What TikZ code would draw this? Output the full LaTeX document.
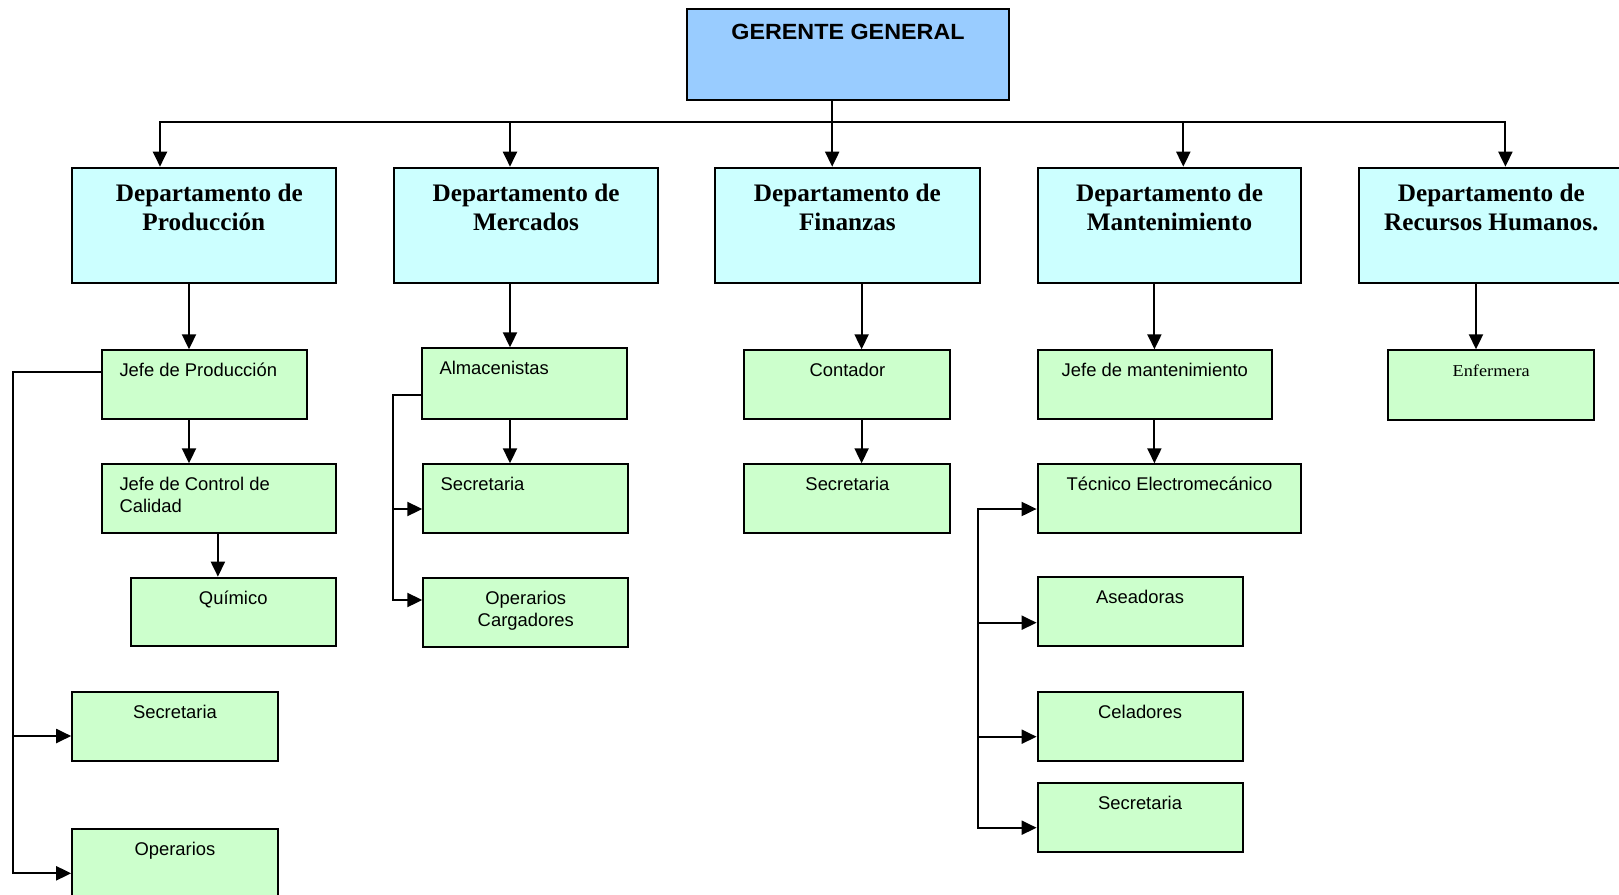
\documentclass[tikz,border=0pt]{standalone}
\usepackage{fontspec}
\setmainfont{Liberation Serif}
\setsansfont{Liberation Sans}
\newfontfamily\arialx{Liberation Sans}
\newfontfamily\arialbx[FakeStretch=1.06]{Liberation Sans}
\newfontfamily\timesx[FakeStretch=1.1]{Liberation Serif}
\usetikzlibrary{arrows.meta}
\definecolor{gblue}{HTML}{99CCFF}
\definecolor{dcyan}{HTML}{CCFFFF}
\definecolor{lgreen}{HTML}{CCFFCC}
\newcommand\twoc[2]{\begin{tabular}[t]{@{}c@{}}#1\\#2\end{tabular}}
\newcommand\twol[2]{\begin{tabular}[t]{@{}l@{}}#1\\#2\end{tabular}}
\tikzset{
  boxbase/.style={draw=black, line width=2pt, inner sep=0pt, anchor=north west},
  topbox/.style={boxbase, fill=gblue},
  deptbox/.style={boxbase, fill=dcyan, minimum height=115pt},
  gbox/.style={boxbase, fill=lgreen},
  conn/.style={line width=2pt, line cap=rect},
  arr/.style={conn, -{Triangle[length=15pt,width=14pt]}},
  toptext/.style={font=\arialbx\bfseries\fontsize{22}{25}\selectfont, inner sep=0pt, anchor=base},
  depttext/.style={font=\bfseries\fontsize{25.2}{28.3}\selectfont, inner sep=0pt, anchor=base},
  gtext/.style={font=\arialx\fontsize{18.4}{22.3}\selectfont, inner sep=0pt, anchor=base},
  gltext/.style={gtext, anchor=base west},
  ttext/.style={font=\timesx\fontsize{16.6}{20}\selectfont, inner sep=0pt, anchor=base},
}
\begin{document}
\begin{tikzpicture}[x=1pt,y=-1pt]
\useasboundingbox (0,0) rectangle (1619,894);
% top
\node[topbox, minimum width=322pt, minimum height=91pt] (gg) at (685.6,8) {};
\node[toptext] (ggt) at (848,39.8) {GERENTE GENERAL};
% departments
\node[deptbox, minimum width=263.3pt] (prod) at (71.2,166.7) {};
\node[deptbox, minimum width=263.3pt] (merc) at (393.4,166.7) {};
\node[deptbox, minimum width=264.8pt] (fin) at (714,166.7) {};
\node[deptbox, minimum width=263.8pt] (mant) at (1036.6,166.7) {};
\node[deptbox, minimum width=264pt] (rrhh) at (1358.3,166.7) {};
\node[depttext] (prodt) at (prod.north |- 0,201.7) {\twoc{\hspace*{11pt}Departamento de}{Producción}};
\node[depttext] (merct) at (merc.north |- 0,201.7) {\twoc{Departamento de}{Mercados}};
\node[depttext] (fint) at (fin.north |- 0,201.7) {\twoc{Departamento de}{Finanzas}};
\node[depttext] (mantt) at (mant.north |- 0,201.7) {\twoc{Departamento de}{Mantenimiento}};
\node[depttext] (rrhht) at (rrhh.north |- 0,201.7) {\twoc{Departamento de}{Recursos Humanos.}};
% level 2
\node[gbox, minimum width=204.4pt, minimum height=68.7pt] (jp) at (101.2,349.3) {};
\node[gbox, minimum width=204.4pt, minimum height=70.7pt] (alm) at (421.3,347.3) {};
\node[gbox, minimum width=206pt, minimum height=68.7pt] (cont) at (743.4,349.3) {};
\node[gbox, minimum width=234.4pt, minimum height=68.7pt] (jm) at (1036.6,349.3) {};
\node[gbox, minimum width=206pt, minimum height=69.7pt] (enf) at (1387.2,349.3) {};
\node[gltext] (jpt) at (119.3,376.5) {Jefe de Producción};
\node[gltext] (almt) at (439.3,374.5) {Almacenistas};
\node[gtext] (contt) at (cont.north |- 0,376.5) {Contador};
\node[gtext] (jmt) at (jm.north |- 0,376.5) {Jefe de mantenimiento};
\node[ttext] (enft) at (enf.north |- 0,376) {Enfermera};
% level 3
\node[gbox, minimum width=233.3pt, minimum height=68.4pt] (jcc) at (101.2,463.3) {};
\node[gbox, minimum width=205pt, minimum height=68.4pt] (sm) at (422.3,463.3) {};
\node[gbox, minimum width=206pt, minimum height=68.4pt] (sf) at (743.4,463.3) {};
\node[gbox, minimum width=263.8pt, minimum height=68.4pt] (tec) at (1036.6,463.3) {};
\node[gltext] (jcct) at (119.3,490.5) {\twol{Jefe de Control de}{Calidad}};
\node[gltext] (smt) at (440.4,490.5) {Secretaria};
\node[gtext] (sft) at (sf.north |- 0,490.5) {Secretaria};
\node[gtext] (tect) at (tec.north |- 0,490.5) {Técnico Electromecánico};
% level 4
\node[gbox, minimum width=204.5pt, minimum height=68.3pt] (qui) at (130,576.7) {};
\node[gbox, minimum width=205pt, minimum height=69.3pt] (opc) at (422.3,576.7) {};
\node[gbox, minimum width=205pt, minimum height=68.7pt] (ase) at (1036.6,576) {};
\node[gbox, minimum width=205pt, minimum height=69pt] (cel) at (1036.6,690.7) {};
\node[gbox, minimum width=205pt, minimum height=68.7pt] (sman) at (1036.6,782) {};
\node[gbox, minimum width=205.5pt, minimum height=69pt] (sp) at (71.2,690.7) {};
\node[gbox, minimum width=205.5pt, minimum height=80pt] (op) at (71.2,827.7) {};
\node[gtext] (quit) at (qui.north |- 0,604.3) {Químico};
\node[gtext] (opct) at (opc.north |- 0,604.3) {\twoc{Operarios}{Cargadores}};
\node[gtext] (aset) at (ase.north |- 0,603.8) {Aseadoras};
\node[gtext] (celt) at (cel.north |- 0,718.3) {Celadores};
\node[gtext] (smant) at (sman.north |- 0,809.8) {Secretaria};
\node[gtext] (spt) at (sp.north |- 0,718.3) {Secretaria};
\node[gtext] (opt) at (op.north |- 0,855.5) {Operarios};
% connectors: top
\coordinate (bus) at (832.2,121.7);
\coordinate (busl) at (160,121.7);
\coordinate (busr) at (1505.4,121.7);
\draw[conn] (bus |- gg.south) -- (bus);
\draw[conn] (busl) -- (busr);
\draw[arr] (busl) -- (busl |- prod.north);
\draw[arr] (510,0 |- bus) -- (510,0 |- merc.north);
\draw[arr] (bus) -- (bus |- fin.north);
\draw[arr] (1183.3,0 |- bus) -- (1183.3,0 |- mant.north);
\draw[arr] (busr) -- (busr |- rrhh.north);
% department chains
\draw[arr] (189,0 |- prod.south) -- (189,0 |- jp.north);
\draw[arr] (189,0 |- jp.south) -- (189,0 |- jcc.north);
\draw[arr] (217.9,0 |- jcc.south) -- (217.9,0 |- qui.north);
\draw[arr] (510,0 |- merc.south) -- (510,0 |- alm.north);
\draw[arr] (510,0 |- alm.south) -- (510,0 |- sm.north);
\draw[arr] (861.6,0 |- fin.south) -- (861.6,0 |- cont.north);
\draw[arr] (861.6,0 |- cont.south) -- (861.6,0 |- sf.north);
\draw[arr] (1154.4,0 |- mant.south) -- (1154.4,0 |- jm.north);
\draw[arr] (1154.4,0 |- jm.south) -- (1154.4,0 |- tec.north);
\draw[arr] (1476,0 |- rrhh.south) -- (1476,0 |- enf.north);
% production bracket
\coordinate (pspine) at (12.9,736);
\draw[arr] (jp.west |- 0,371.7) -- (12.9,371.7) -- (12.9,873.3) -- (op.west |- 0,873.3);
\draw[arr] (pspine) -- (sp.west |- pspine);
% market bracket
\coordinate (mspine) at (393.4,509);
\draw[arr] (alm.west |- 0,395) -- (393.4,395) -- (393.4,600) -- (opc.west |- 0,600);
\draw[arr] (mspine) -- (sm.west |- mspine);
% maintenance bracket
\coordinate (ktop) at (978.3,509);
\coordinate (kase) at (978.3,622.7);
\coordinate (kcel) at (978.3,736.7);
\draw[arr] (ktop) -- (978.3,827.7) -- (sman.west |- 0,827.7);
\draw[arr] (ktop) -- (tec.west |- ktop);
\draw[arr] (kase) -- (ase.west |- kase);
\draw[arr] (kcel) -- (cel.west |- kcel);
\end{tikzpicture}
\end{document}
